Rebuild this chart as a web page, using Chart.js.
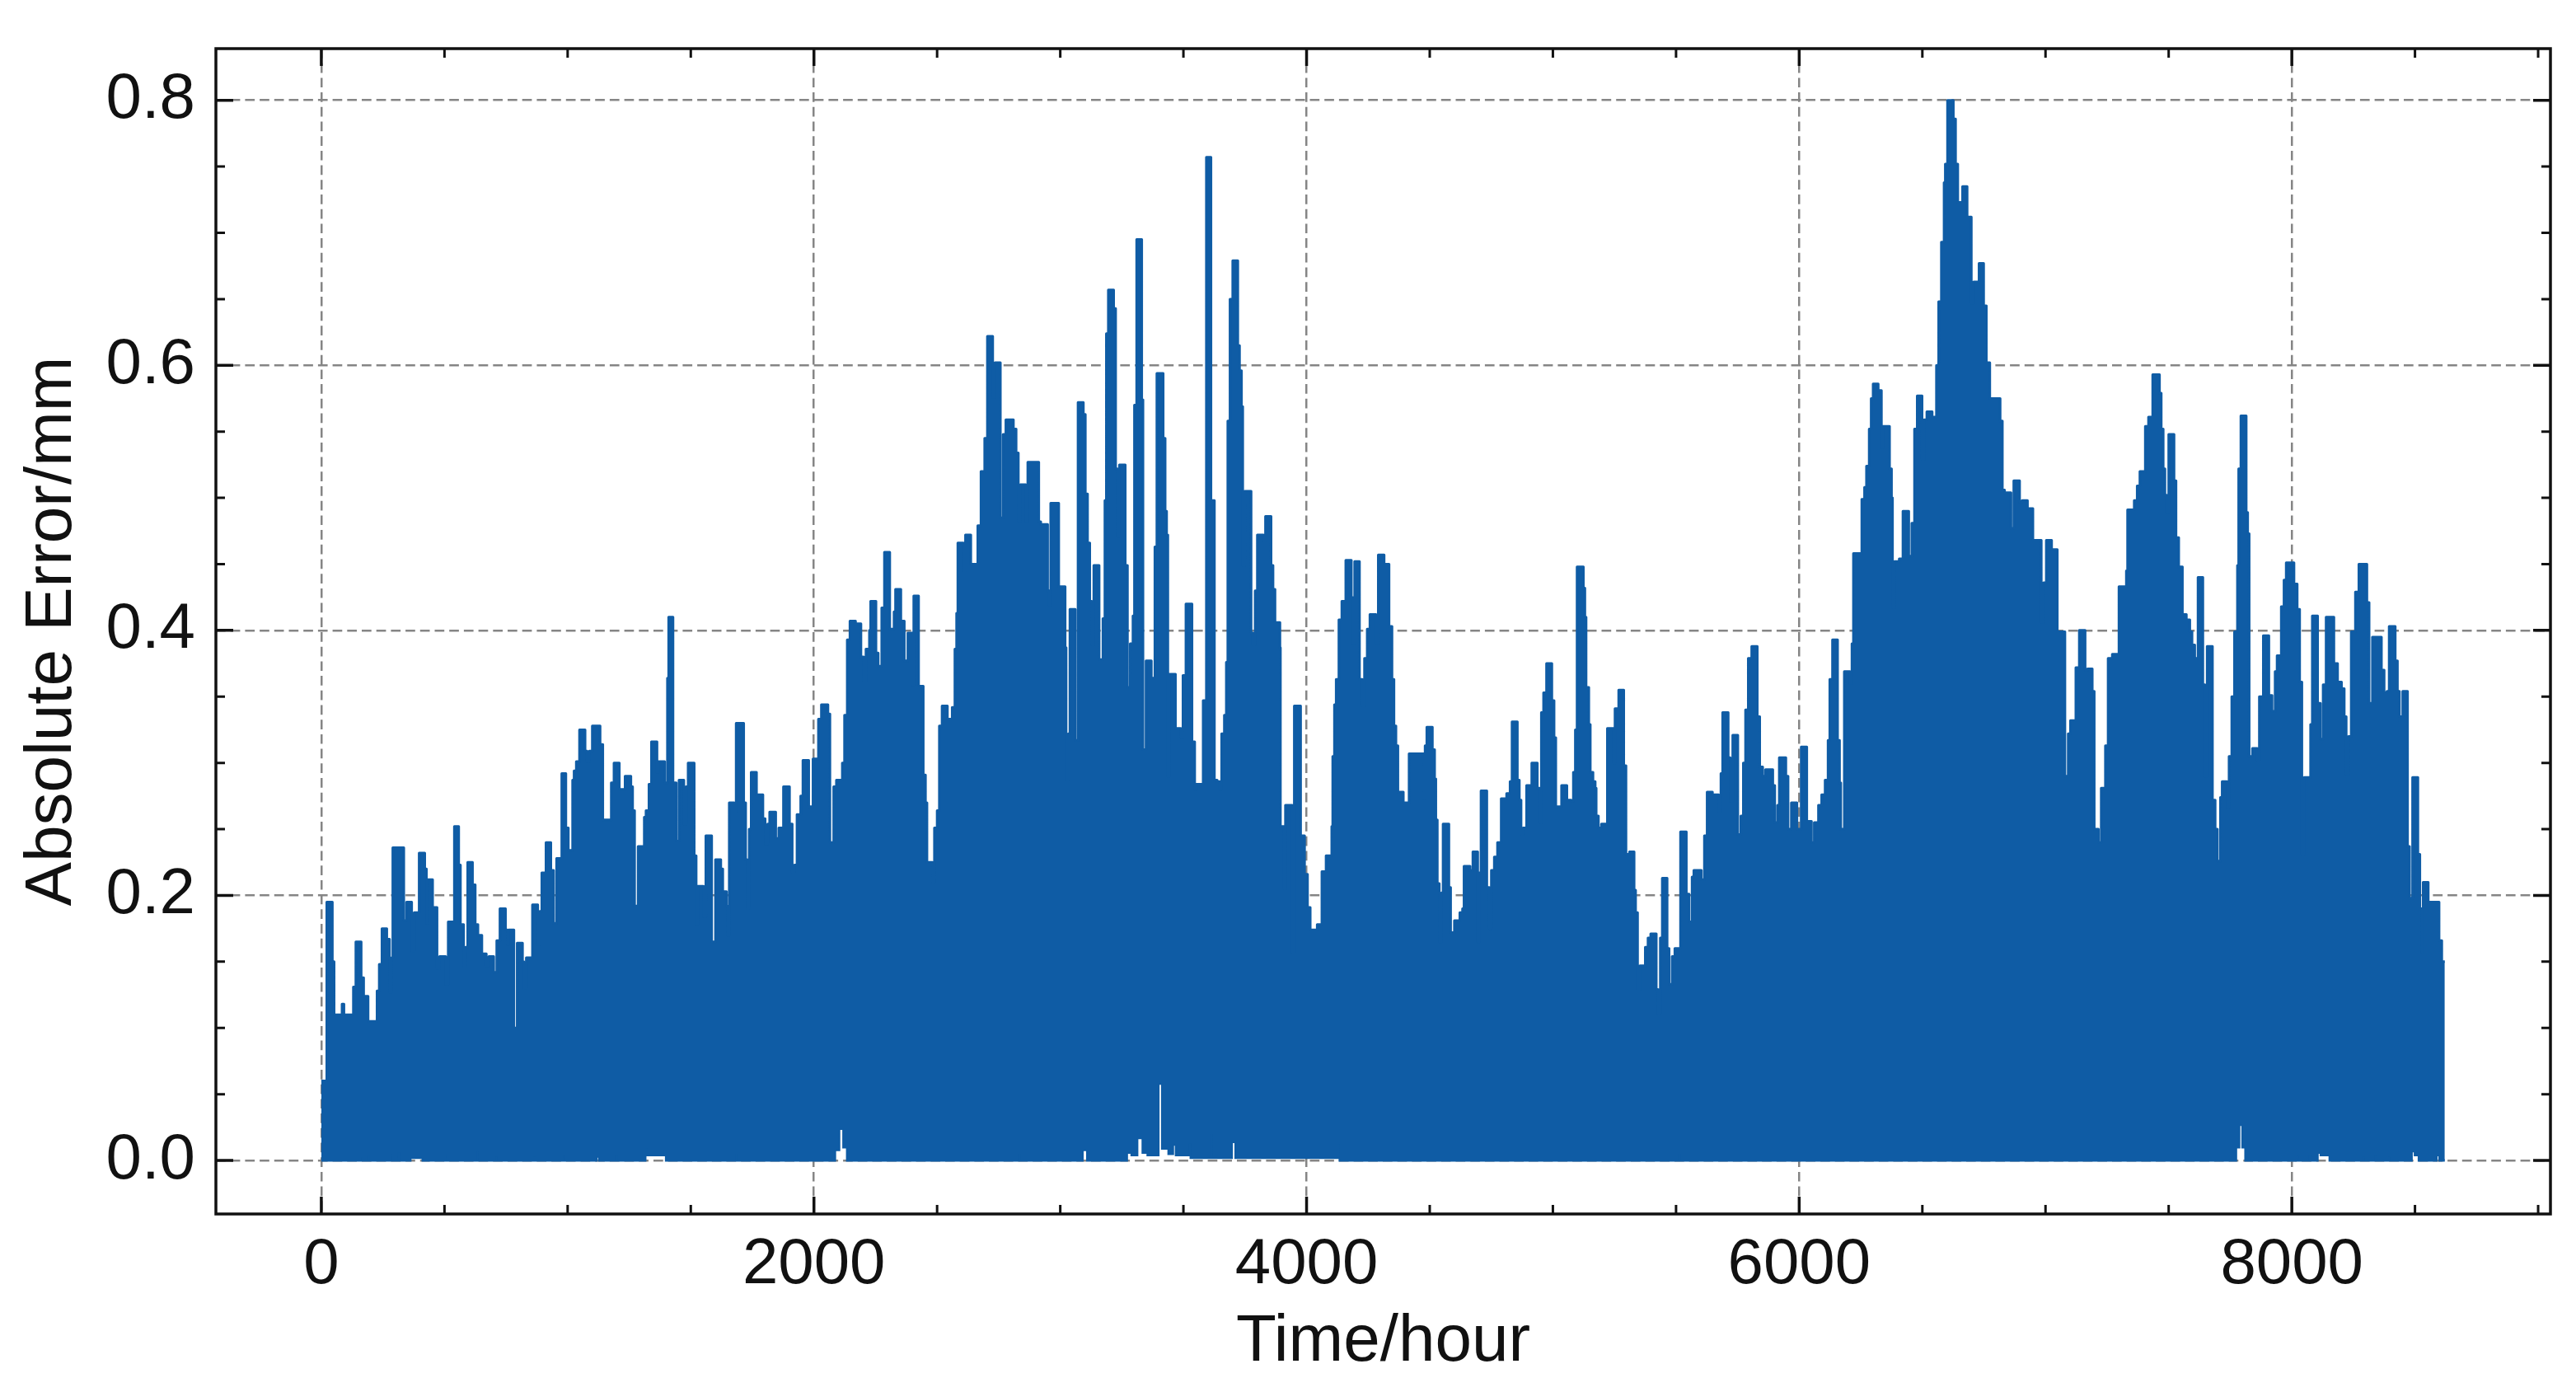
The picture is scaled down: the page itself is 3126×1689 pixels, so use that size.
<!DOCTYPE html>
<html>
<head>
<meta charset="utf-8">
<title>Absolute Error</title>
<script src="https://cdn.jsdelivr.net/npm/chart.js@4"></script>
<style>
  html, body { margin: 0; padding: 0; background: #fff; }
  canvas { display: block; }
</style>
</head>
<body>
<canvas id="errorChart" width="3126" height="1689"></canvas>
<script>
// upper edge of the band (hour where each level starts)
const peakHours = [
  0,22,45,52,84,92,130,140,162,172,
  190,226,235,246,266,277,285,290,335,346,
  367,377,397,420,427,432,452,470,480,505,
  515,540,558,565,578,586,594,614,625,636,
  652,670,680,700,712,725,748,756,760,782,
  795,817,822,832,857,879,887,895,912,932,
  943,955,976,993,1003,1020,1026,1035,1048,1071,
  1079,1088,1100,1132,1143,1177,1188,1210,1222,1233,
  1257,1264,1272,1286,1311,1318,1330,1340,1363,1370,
  1394,1405,1410,1428,1441,1452,1472,1481,
  1489,1514,1522,1528,1552,1561,1585,1600,1622,1630,
  1645,1650,1656,1676,1684,1715,1723,1729,1737,1745,
  1767,1793,1802,1812,1820,1845,1857,1876,1901,1912,
  1921,1931,1946,1955,1979,1996,2018,2030,2057,2065,
  2080,2091,2115,2124,2135,2146,2169,2191,2202,2211,
  2225,2230,2252,2261,2275,2286,2308,2325,2331,2353,
  2367,2381,2400,2405,2425,2444,2453,2459,2481,2489,
  2500,2509,2520,2542,2561,2572,2579,2584,2607,2615,
  2637,2665,2678,2693,2704,2726,2735,2757,2768,2779,
  2810,2821,2830,2838,2860,2868,2913,2921,2949,2955,
  2961,2994,3005,3020,3024,3033,3039,3061,3072,3094,
  3102,3111,3120,3128,3136,3158,3173,3181,3187,3195,
  3217,3225,3232,3240,3264,3273,3284,3295,3301,3310,
  3331,3336,3348,3370,3384,3392,3418,3426,3432,3437,
  3444,3468,3490,3498,3510,3535,3546,3552,3580,3593,
  3612,3626,3637,3648,3655,3666,3674,3680,3689,3700,
  3721,3728,3736,3741,3749,3775,3782,3791,3800,3825,
  3833,3856,3864,3872,3892,3894,3909,3914,3942,3950,
  3976,3992,4004,4015,4043,4062,4079,4102,4106,4113,
  4120,4131,4143,4159,4182,4187,4195,
  4215,4226,4235,4246,4257,4282,4291,4315,4335,4347,
  4355,4363,4371,4393,
  4416,4475,4481,4488,4511,4520,4525,4531,4539,4548,
  4554,4578,4585,4600,4622,4633,4639,4664,4675,4695,
  4700,4708,4732,4742,4750,4762,4775,4790,4812,4826,
  4834,4856,4864,4871,4879,4893,4914,4937,4946,4953,
  4962,4974,4996,5005,5012,5035,5057,5074,5083,5091,
  5098,5124,5130,5135,5146,5152,5163,5172,5176,5185,
  5197,5221,5247,5252,5267,5288,5297,5311,5330,5336,
  5344,5353,5375,5386,5397,5420,5427,5436,5444,5464,
  5472,5484,5495,5518,5542,5553,5565,5572,5603,5615,
  5626,5648,5673,5682,5689,5712,5720,5730,5751,5763,
  5773,5782,5793,5807,5830,5840,5852,5863,5893,5901,
  5912,5919,
  5946,5955,5968,5991,6008,6031,6050,6061,6078,6091,
  6105,6117,6124,6135,6156,6164,6169,6183,6206,6214,
  6220,6254,6265,6273,6284,6292,6300,6321,6334,6340,
  6367,6375,6379,6387,6406,6421,6445,6457,6468,6479,
  6499,6507,6518,6540,6557,6566,6577,6588,6593,6602,
  6626,6635,6644,6663,6682,6699,6708,6730,6749,6760,
  6774,6816,6825,6834,6860,6871,6895,6905,6927,6949,
  6983,6992,7003,7025,7048,7079,7092,7101,7123,7137,
  7161,7170,7190,7198,7215,7226,7243,7254,7271,7298,
  7328,7333,7360,7372,7383,7405,7418,7435,7463,7470,
  7478,7485,7492,7500,7522,7530,7541,7556,7572,7586,
  7595,7606,7619,7639,7647,7656,7678,7689,7698,7710,
  7717,7737,7745,7756,7767,7779,7784,7793,7815,7821,
  7827,7840,7860,7868,7884,7907,7920,7932,7940,7957,
  7968,7977,8009,8022,8032,8041,8050,8076,8083,8105,
  8116,8127,8139,8171,8186,8202,8213,8221,8230,8241,
  8258,8272,8305,8314,8327,8364,8375,8386,8395,8420,
  8429,8437,8450,8470,8478,8490,8512,8520,8528,8533,
  8554,8578,8598,8609,8621
];
const peakErrors = [
  .06,.195,.15,.11,.118,.11,.131,.165,.138,.124,
  .105,.128,.148,.175,.167,.127,.153,.236,.181,.195,
  .158,.187,.232,.22,.179,.212,.191,.145,.154,.133,
  .18,.252,.223,.178,.146,.161,.225,.208,.178,.17,
  .156,.147,.154,.142,.166,.19,.174,.163,.174,.10,
  .164,.15,.13,.153,.193,.163,.188,.217,.24,.219,
  .179,.228,.292,.251,.234,.287,.294,.301,.325,.309,
  .301,.309,.328,.314,.257,.285,.30,.28,.28,.29,
  .282,.264,.192,.237,.259,.264,.284,.316,.293,.301,
  .285,.364,.41,.285,.241,.287,.254,.282,
  .30,.23,.178,.207,.184,.245,.165,.227,.22,.203,
  .192,.17,.27,.263,.33,.27,.227,.19,.25,.293,
  .276,.258,.239,.254,.263,.243,.251,.282,.254,.217,
  .223,.261,.275,.302,.267,.303,.333,.344,.337,.24,
  .282,.287,.30,.336,.393,.407,.405,.38,.362,.386,
  .40,.422,.383,.373,.417,.459,.401,.414,.431,.407,
  .377,.398,.359,.426,.358,.291,.27,.225,.21,.251,
  .264,.328,.343,.333,.342,.386,.413,.466,.445,.472,
  .45,.479,.52,.545,.622,.576,.602,.485,.548,.559,
  .552,.534,.482,.51,.482,.527,.482,.48,.43,.419,
  .496,.433,.433,.387,.287,.322,.416,.317,.572,.563,
  .503,.466,.422,.389,.449,.378,.409,.498,.624,.657,
  .643,.522,.471,.525,.449,.357,.39,.411,.57,.695,
  .574,.31,.377,.364,.463,.594,.545,.49,.472,.29,
  .367,.326,.319,.366,.42,.316,.28,.284,.347,.757,
  .498,.287,.286,.28,.322,.336,.376,.558,.65,.679,
  .615,.596,.569,.449,.505,.398,.389,.43,.472,.468,
  .486,.449,.431,.406,.387,.252,.205,.268,.157,.343,
  .245,.216,.191,.174,.178,.218,.23,.252,.305,.344,
  .363,.408,.422,.453,.425,.39,.452,
  .363,.343,.379,.401,.412,.39,.457,.45,.403,.363,
  .328,.313,.278,.27,
  .307,.273,.313,.327,.31,.288,.257,.209,.165,.202,
  .254,.206,.172,.181,.187,.19,.222,.219,.233,.165,
  .217,.279,.206,.175,.219,.229,.24,.273,.277,.286,
  .331,.287,.272,.246,.251,.283,.30,.281,.255,.338,
  .353,.375,.347,.319,.267,.283,.272,.271,.293,.325,
  .448,.432,.41,.357,.329,.293,.286,.281,.26,.251,
  .254,.326,.30,.341,.355,.298,.231,.233,.204,.187,
  .129,.147,.161,.168,.171,.129,.111,.168,.213,.16,
  .133,.154,.16,.248,.201,.18,.214,.219,.212,.245,
  .278,.276,.263,.292,.338,.304,.271,.321,.246,.26,
  .30,.34,.379,.388,.335,.297,.29,.295,.283,.255,
  .268,.304,
  .29,.25,.27,.25,.312,.256,.24,.255,.268,.276,
  .287,.317,.363,.393,.317,.285,.25,.369,.36,.39,
  .458,.499,.508,.524,.552,.575,.586,.581,.538,.554,
  .522,.50,.417,.452,.454,.49,.456,.481,.552,.577,
  .529,.559,.565,.561,.60,.648,.693,.738,.752,.80,
  .786,.752,.723,.735,.712,.647,.663,.677,.645,.602,
  .575,.558,.506,.504,.477,.513,.497,.498,.492,.468,
  .406,.436,.468,.461,.399,.29,.322,.332,.372,.40,
  .37,.371,.354,.25,.24,.281,.313,.379,.382,.433,
  .445,.491,.498,.509,.52,.554,.561,.593,.579,.552,
  .522,.502,.489,.548,.513,.47,.448,.412,.408,.399,
  .389,.379,.44,.359,.29,.388,.272,.25,.226,.274,
  .286,.266,.305,.35,.399,.449,.522,.562,.489,.473,
  .305,.311,.302,.35,.396,.351,.339,.369,.381,.418,
  .438,.451,.435,.416,.361,.231,.289,.329,.411,.345,
  .318,.359,.41,.375,.361,.356,.335,.291,.32,.399,
  .429,.45,.421,.345,.395,.37,.353,.354,.403,.377,
  .354,.335,.354,.237,.198,.289,.231,.19,.157,.21,
  .195,.195,.166,.15,.15
];

// lower edge of the band: mostly zero, with the small white notches
const lowHours = [
  0,163,170,188,195,278,286,310,320,361,
  412,502,508,630,637,707,714,860,870,982,
  990,1116,1128,1193,1203,1315,1325,1391,1400,1680,
  1690,2085,2102,2120,2135,2830,2840,3090,3110,3270,
  3290,3312,3335,3355,3398,3414,3440,3457,3470,3521,
  3530,3609,3618,3696,3712,4125,4135,5510,5520,7773,
  7786,7800,7812,8020,8028,8068,8078,8104,8118,8146,
  8154,8285,8295,8336,8344,8391,8400,8486,8500,8508,
  8516,8587,8600,8621
];
const lowErrors = [
  0,.002,0,.004,0,.005,0,.006,0,.002,
  0,.005,0,.007,0,.003,0,.003,0,.004,
  0,.003,0,.004,0,.009,.004,.008,0,.005,
  0,.008,.024,.01,0,.005,0,.008,0,.006,
  .004,.017,.006,.004,.058,.009,.005,.012,.004,.013,
  .002,.02,.002,.014,.002,.012,0,.005,0,.01,
  .027,.01,0,.004,0,.004,0,.006,.004,.004,
  0,.003,0,.004,0,.003,0,.007,.004,.004,
  0,.004,0,0
];

const xTicks = [0,500,1000,1500,2000,2500,3000,3500,4000,4500,5000,5500,6000,6500,7000,7500,8000,8500,9000];
const xMajor = [0,2000,4000,6000,8000];
const yTicks = [0,.05,.1,.15,.2,.25,.3,.35,.4,.45,.5,.55,.6,.65,.7,.75,.8];
const yMajor = [0,.2,.4,.6,.8];

const isMajor = (list, v) => list.some(m => Math.abs(m - v) < 1e-6);
const fontFamily = '"Liberation Sans", Arial, sans-serif';
const blue = "#0F5CA5";
const ink = "#111111";

// inward ticks on all four sides plus the frame
const frame = {
  id: "frame",
  afterDraw(chart) {
    const { ctx, chartArea: a, scales } = chart;
    ctx.save();
    ctx.strokeStyle = ink;
    xTicks.forEach(v => {
      const x = scales.x.getPixelForValue(v);
      const major = isMajor(xMajor, v);
      const len = major ? 21 : 11;
      ctx.lineWidth = major ? 3.5 : 3;
      ctx.beginPath();
      ctx.moveTo(x, a.bottom); ctx.lineTo(x, a.bottom - len);
      ctx.moveTo(x, a.top); ctx.lineTo(x, a.top + len);
      ctx.stroke();
    });
    yTicks.forEach(v => {
      const y = scales.y.getPixelForValue(v);
      const major = isMajor(yMajor, v);
      const len = major ? 21 : 11;
      ctx.lineWidth = major ? 3.5 : 3;
      ctx.beginPath();
      ctx.moveTo(a.left, y); ctx.lineTo(a.left + len, y);
      ctx.moveTo(a.right, y); ctx.lineTo(a.right - len, y);
      ctx.stroke();
    });
    ctx.lineWidth = 3.5;
    ctx.strokeRect(a.left, a.top, a.right - a.left, a.bottom - a.top);
    ctx.restore();
  },
};

new Chart(document.getElementById("errorChart"), {
  type: "line",
  data: {
    datasets: [
      {
        label: "Absolute Error",
        data: peakHours.map((h, i) => ({ x: h, y: peakErrors[i] })),
        borderColor: blue,
        backgroundColor: blue,
        borderWidth: 3,
        borderJoinStyle: "round",
        stepped: "before",
        pointRadius: 0,
        fill: "+1",
      },
      {
        label: "Lower edge",
        data: lowHours.map((h, i) => ({ x: h, y: lowErrors[i] })),
        borderColor: blue,
        borderWidth: 3,
        stepped: "before",
        pointRadius: 0,
        fill: false,
      },
    ],
  },
  options: {
    responsive: false,
    devicePixelRatio: 1,
    animation: false,
    layout: { padding: { left: 0, top: 59, right: 31, bottom: 0 } },
    plugins: {
      legend: { display: false },
      title: { display: false },
      tooltip: { enabled: false },
    },
    scales: {
      x: {
        type: "linear",
        min: -428,
        max: 9050,
        afterBuildTicks: s => { s.ticks = xTicks.map(v => ({ value: v })); },
        afterFit: s => { s.height = 216; s.paddingLeft = 0; s.paddingRight = 0; },
        border: { display: false, dash: [11.7, 6] },
        grid: {
          drawTicks: false,
          lineWidth: 2.5,
          color: c => (isMajor(xMajor, c.tick.value) ? "#858585" : "transparent"),
        },
        ticks: {
          autoSkip: false,
          maxRotation: 0,
          padding: 16,
          color: ink,
          font: { family: fontFamily, size: 78 },
          callback: v => (isMajor(xMajor, v) ? String(v) : ""),
        },
        title: {
          display: true,
          text: "Time/hour",
          color: ink,
          font: { family: fontFamily, size: 80 },
          padding: { top: 0, bottom: 12 },
        },
      },
      y: {
        type: "linear",
        min: -0.0404,
        max: 0.839,
        afterBuildTicks: s => { s.ticks = yTicks.map(v => ({ value: v })); },
        afterFit: s => { s.width = 262; s.paddingTop = 0; s.paddingBottom = 0; },
        border: { display: false, dash: [11.7, 6] },
        grid: {
          drawTicks: false,
          lineWidth: 2.5,
          color: c => (isMajor(yMajor, c.tick.value) ? "#858585" : "transparent"),
        },
        ticks: {
          autoSkip: false,
          padding: 25,
          color: ink,
          font: { family: fontFamily, size: 78 },
          callback: v => (isMajor(yMajor, v) ? v.toFixed(1) : ""),
        },
        title: {
          display: true,
          text: "Absolute Error/mm",
          color: ink,
          font: { family: fontFamily, size: 80 },
          padding: { top: 16, bottom: 0 },
        },
      },
    },
  },
  plugins: [frame],
});
</script>
</body>
</html>
